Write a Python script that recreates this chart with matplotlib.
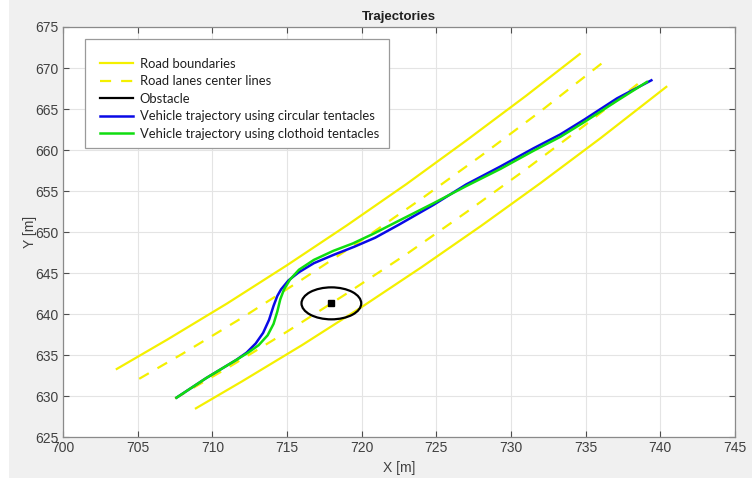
import matplotlib
matplotlib.use("Agg")
import matplotlib.pyplot as plt
from matplotlib.patches import Ellipse, Rectangle

# --- data (road is a gentle curve) ---
road_upper_x = [703.6, 707.0, 711.0, 715.0, 719.0, 723.0, 727.0, 731.0, 734.6]
road_upper_y = [633.3, 636.9, 641.3, 645.95, 650.8, 655.85, 661.15, 666.6, 671.7]
road_lower_x = [708.9, 712.0, 716.0, 720.0, 724.0, 728.0, 732.0, 736.0, 740.4]
road_lower_y = [628.5, 631.8, 636.2, 640.85, 645.7, 650.75, 656.0, 661.45, 667.7]
lane_upper_x = [705.1, 708.0, 712.0, 716.0, 720.0, 724.0, 728.0, 732.0, 736.1]
lane_upper_y = [632.1, 635.15, 639.55, 644.2, 649.0, 654.05, 659.3, 664.75, 670.6]
lane_lower_x = [707.5, 711.0, 715.0, 719.0, 723.0, 727.0, 731.0, 735.0, 738.8]
lane_lower_y = [629.7, 633.4, 637.85, 642.5, 647.3, 652.4, 657.65, 663.1, 668.5]

obstacle_x = 717.97
obstacle_y = 641.3
obstacle_w = 4.0
obstacle_h = 3.9

circ_x = [707.6, 708.6, 709.6, 710.6, 711.6, 712.3, 712.9, 713.4, 713.8, 714.1, 714.35,
          714.6, 715.1, 715.8, 716.8, 718.1, 719.5, 720.9, 722.5, 724.8, 727.0, 729.3,
          731.5, 733.3, 734.9, 737.1, 739.4]
circ_y = [629.8, 631.0, 632.2, 633.3, 634.4, 635.3, 636.4, 637.7, 639.3, 641.0, 642.2,
          643.0, 644.1, 645.1, 646.2, 647.2, 648.2, 649.3, 650.9, 653.3, 655.8, 658.0,
          660.2, 661.9, 663.7, 666.3, 668.5]
clot_x = [707.6, 708.6, 709.6, 710.6, 711.6, 712.4, 713.1, 713.7, 714.1, 714.35, 714.55,
          714.8, 715.2, 715.8, 716.8, 718.1, 719.4, 720.8, 722.3, 724.8, 727.0, 729.3,
          731.5, 733.3, 734.9, 737.1, 739.1]
clot_y = [629.8, 631.0, 632.2, 633.3, 634.4, 635.3, 636.2, 637.4, 638.8, 640.3, 641.8,
          643.0, 644.2, 645.4, 646.6, 647.7, 648.6, 649.8, 651.2, 653.5, 655.6, 657.7,
          659.9, 661.6, 663.4, 666.0, 668.3]

legend_labels = ["Road boundaries", "Road lanes center lines", "Obstacle",
                 "Vehicle trajectory using circular tentacles",
                 "Vehicle trajectory using clothoid tentacles"]

YELLOW = "#f4f000"
BLUE = "#0a0ae6"
GREEN = "#10dd10"
TXT = "#404040"
NARROW = ["Liberation Sans Narrow", "Liberation Sans", "DejaVu Sans"]

fig = plt.figure(figsize=(7.52, 4.83), dpi=100, facecolor="white")
# grey window background (small white margin left / bottom like the screenshot)
fig.patches.append(Rectangle((0.012, 0.0104), 0.988, 0.99, transform=fig.transFigure,
                             facecolor="#f0f0f0", edgecolor="none", zorder=-10))

ax = fig.add_axes([0.0838, 0.0952, 0.8936, 0.8489])
ax.set_facecolor("white")

h_road, = ax.plot(road_upper_x, road_upper_y, color=YELLOW, lw=1.6, zorder=2)
ax.plot(road_lower_x, road_lower_y, color=YELLOW, lw=1.6, zorder=2)
h_lane, = ax.plot(lane_upper_x, lane_upper_y, color=YELLOW, lw=1.6, dashes=(5, 4.5), zorder=2)
ax.plot(lane_lower_x, lane_lower_y, color=YELLOW, lw=1.6, dashes=(5, 4.5), zorder=2)

ax.add_patch(Ellipse((obstacle_x, obstacle_y), obstacle_w, obstacle_h, facecolor="none",
                     edgecolor="black", lw=1.6, zorder=3))
ax.plot([obstacle_x], [obstacle_y], "s", color="black", ms=4.5, zorder=3)
h_obs, = ax.plot([], [], color="black", lw=1.6)

h_circ, = ax.plot(circ_x, circ_y, color=BLUE, lw=1.8, zorder=4)
h_clot, = ax.plot(clot_x, clot_y, color=GREEN, lw=1.8, zorder=5)

ax.set_xlim(700, 745)
ax.set_ylim(625, 675)
ax.set_xticks(range(700, 746, 5))
ax.set_yticks(range(625, 676, 5))
ax.grid(True, color="#e4e4e4", lw=0.8)
ax.set_axisbelow(True)
ax.tick_params(direction="in", length=4, width=0.8, color="#4d4d4d", top=True, right=True,
               labelcolor=TXT, pad=3)
for sp in ax.spines.values():
    sp.set_color("#8a8a8a")
    sp.set_linewidth(0.9)
for lab in ax.get_xticklabels() + ax.get_yticklabels():
    lab.set_family(NARROW)
    lab.set_fontsize(10)

ax.set_title("Trajectories", fontsize=9.5, fontweight="bold", color="#202020", pad=5,
             family=["Liberation Sans", "DejaVu Sans"])
ax.set_xlabel("X [m]", fontsize=10, color=TXT, labelpad=4, family=NARROW)
ax.set_ylabel("Y [m]", fontsize=10, color=TXT, labelpad=-1, family=NARROW)

# legend box (larger than its content, as in the screenshot)
ax.add_patch(Rectangle((0.0327, 0.705), 0.4523, 0.266, transform=ax.transAxes,
                       facecolor="white", edgecolor="#9a9a9a", lw=0.9, zorder=6))
leg = ax.legend([h_road, h_lane, h_obs, h_circ, h_clot], legend_labels,
                loc="upper left", bbox_to_anchor=(0.055, 0.925), borderaxespad=0,
                borderpad=0, frameon=False, handlelength=2.5, handletextpad=0.55,
                labelspacing=0.42, prop={"family": ["Lato", "DejaVu Sans"], "size": 9.4})
leg.set_zorder(7)
for t in leg.get_texts():
    t.set_color("#202020")

fig.savefig("out.png", dpi=100, facecolor=fig.get_facecolor())
